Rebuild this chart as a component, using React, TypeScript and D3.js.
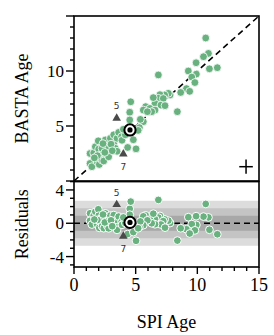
import React from "react";
import * as d3 from "d3";

// SPI age vs BASTA age (Gyr)
const spiAge = [
  10.68, 10.9, 10.5, 10.98, 11.62, 9.9, 9.27, 9.92, 9.55, 9.8, 9.12, 9.38, 8.65, 8.38,
  7.79, 7.65, 7.35, 6.97, 6.84, 7.24, 6.57, 7.05, 7.38, 5.81, 6.16, 5.62, 6.57, 6.3, 5.95, 6.43, 6.84, 5.62, 5.3,
  1.3, 1.3, 1.45, 1.6, 1.73, 1.87, 1.97, 2.05, 2.0, 2.14, 2.27, 2.27, 2.41, 2.54, 2.68, 2.81, 2.81, 2.95,
  3.22, 3.22, 3.35, 3.49, 3.49, 3.62, 3.86, 3.89, 4.16, 4.35, 4.4, 4.81, 4.52, 4.6, 4.52, 5.03, 5.38, 5.2,
  1.9, 2.5, 1.65, 3.0, 4.0, 2.35, 3.1,
];
const bastaAge = [
  13.0, 11.6, 11.3, 10.2, 10.3, 10.75, 10.0, 9.72, 9.45, 8.95, 8.4, 8.15, 8.05, 6.3,
  7.82, 7.97, 7.82, 7.85, 7.52, 7.5, 7.06, 6.9, 6.85, 6.76, 6.6, 6.45, 6.45, 6.3, 6.3, 7.58, 9.64, 5.39, 4.85,
  2.5, 1.6, 1.3, 2.55, 3.12, 1.76, 3.65, 1.5, 2.9, 2.36, 2.97, 1.9, 1.82, 3.73, 2.42, 3.12, 2.2, 3.88,
  3.4, 4.2, 2.97, 3.88, 2.7, 4.42, 4.03, 3.7, 4.2, 3.05, 4.6, 3.75, 6.25, 7.2, 5.55, 2.92, 5.6, 4.6,
  2.3, 2.6, 2.1, 3.35, 4.7, 3.4, 2.75,
];

// labelled comparison stars (triangles)
const specialNames = ["5", "7"];
const specialSpi = [3.46, 4.0];
const specialBasta = [5.7, 2.45];

// highlighted target
const heroSpi = 4.54;
const heroBasta = 4.64;

// typical uncertainty cross
const errCenter = [13.95, 1.3];
const errSpi = 0.55;
const errBasta = 0.65;

// residual scatter bands (1, 2, 3 sigma)
const sigma = 0.9;
const bandMultiples = [3, 2, 1];
const bandColors = ["#dcdcdc", "#c4c4c4", "#a8a8a8"];

const xTicks = d3.range(0, 16);
const xTickLabels = [0, 5, 10, 15];
const yTopTicks = d3.range(0, 16);
const yTopLabels = [5, 10];
const yResTicks = d3.range(-5, 6);
const yResLabels = [4, 0, -4];

const GREEN = "#69b17f";
const SERIF = "'Liberation Serif', 'Times New Roman', serif";

export default function App() {
  const x = d3.scaleLinear().domain([0, 15]).range([74, 259]);
  const yT = d3.scaleLinear().domain([0, 15]).range([181, 16]);
  const yR = d3.scaleLinear().domain([-5.25, 5]).range([267, 181.6]);
  const tri = d3.symbol().type(d3.symbolTriangle).size(32)() as string;

  const [x0, x1] = x.range();
  const resid = spiAge.map((s, i) => bastaAge[i] - s);

  return (
    <svg width={274} height={335} style={{ position: "absolute", left: 0, top: 0, background: "#fff" }}>
      {/* residual bands */}
      {bandMultiples.map((m, i) => (
        <rect key={"b" + i} x={x0} width={x1 - x0} y={yR(m * sigma)} height={yR(-m * sigma) - yR(m * sigma)} fill={bandColors[i]} />
      ))}
      {/* reference lines */}
      <line x1={x(0)} y1={yT(0)} x2={x(15)} y2={yT(15)} stroke="#000" strokeWidth={1.6} strokeDasharray="6,4" />
      <line x1={x0} x2={x1} y1={yR(0)} y2={yR(0)} stroke="#000" strokeWidth={1.6} strokeDasharray="6,4" />

      {/* points top */}
      {spiAge.map((s, i) => (
        <circle key={"t" + i} cx={x(s)} cy={yT(bastaAge[i])} r={3.9} fill={GREEN} stroke="#fff" strokeWidth={0.8} />
      ))}
      {/* points residual */}
      {spiAge.map((s, i) => (
        <circle key={"r" + i} cx={x(s)} cy={yR(resid[i])} r={3.9} fill={GREEN} stroke="#fff" strokeWidth={1} />
      ))}

      {/* special triangles */}
      {specialNames.map((n, i) => {
        const cx = x(specialSpi[i]);
        const cyT = yT(specialBasta[i]);
        const cyR = yR(specialBasta[i] - specialSpi[i]);
        const above = specialBasta[i] > specialSpi[i];
        const off = above ? -12 : 13;
        return (
          <g key={"s" + i}>
            <path d={tri} transform={`translate(${cx},${cyT})`} fill="#4a4a4a" />
            <path d={tri} transform={`translate(${cx},${cyR})`} fill="#4a4a4a" />
            <text x={cx} y={cyT + off} dy="0.35em" textAnchor="middle" fontSize={9} fontFamily="'DejaVu Sans', sans-serif" fill="#333">{n}</text>
            <text x={cx} y={cyR + off} dy="0.35em" textAnchor="middle" fontSize={9} fontFamily="'DejaVu Sans', sans-serif" fill="#333">{n}</text>
          </g>
        );
      })}

      {/* hero */}
      {[yT(heroBasta), yR(heroBasta - heroSpi)].map((cy, i) => (
        <g key={"h" + i}>
          <circle cx={x(heroSpi)} cy={cy} r={5.6} fill="#fff" stroke="#000" strokeWidth={2} />
          <circle cx={x(heroSpi)} cy={cy} r={2.6} fill="#000" />
        </g>
      ))}

      {/* error cross */}
      <line x1={x(errCenter[0] - errSpi)} x2={x(errCenter[0] + errSpi)} y1={yT(errCenter[1])} y2={yT(errCenter[1])} stroke="#000" strokeWidth={1.5} />
      <line x1={x(errCenter[0])} x2={x(errCenter[0])} y1={yT(errCenter[1] - errBasta)} y2={yT(errCenter[1] + errBasta)} stroke="#000" strokeWidth={1.5} />

      {/* frames */}
      <rect x={x0} y={yT(15)} width={x1 - x0} height={yT(0) - yT(15)} fill="none" stroke="#000" strokeWidth={1.6} />
      <rect x={x0} y={yR(5)} width={x1 - x0} height={yR(-5.25) - yR(5)} fill="none" stroke="#000" strokeWidth={1.6} />

      {/* top y ticks */}
      {yTopTicks.map((t) => (
        <line key={"yt" + t} x1={x0 - (t % 5 === 0 ? 8 : 4)} x2={x0} y1={yT(t)} y2={yT(t)} stroke="#000" strokeWidth={1.4} />
      ))}
      {yTopLabels.map((t) => (
        <text key={"ytl" + t} x={x0 - 10} y={yT(t)} dy="0.35em" textAnchor="end" fontSize={17} fontFamily={SERIF}>{t}</text>
      ))}
      {/* residual y ticks */}
      {yResTicks.map((t) => (
        <line key={"yr" + t} x1={x0 - (t % 4 === 0 ? 8 : 4)} x2={x0} y1={yR(t)} y2={yR(t)} stroke="#000" strokeWidth={1.4} />
      ))}
      {yResLabels.map((t) => (
        <text key={"yrl" + t} x={x0 - 10} y={yR(t)} dy="0.35em" textAnchor="end" fontSize={17} fontFamily={SERIF}>{t}</text>
      ))}
      {/* x ticks */}
      {xTicks.map((t) => (
        <line key={"xt" + t} x1={x(t)} x2={x(t)} y1={yR(-5.25)} y2={yR(-5.25) + (t % 5 === 0 ? 7 : 4)} stroke="#000" strokeWidth={1.4} />
      ))}
      {xTickLabels.map((t) => (
        <text key={"xtl" + t} x={x(t)} y={291} textAnchor="middle" fontSize={18} fontFamily={SERIF}>{t}</text>
      ))}

      {/* titles */}
      <text x={x((0 + 15) / 2)} y={328} textAnchor="middle" fontSize={18} fontFamily={SERIF}>SPI Age</text>
      <text transform={`translate(28,${(yT(0) + yT(15)) / 2}) rotate(-90)`} textAnchor="middle" fontSize={18} fontFamily={SERIF}>BASTA Age</text>
      <text transform={`translate(28,${(yR(-5.25) + yR(5)) / 2}) rotate(-90)`} textAnchor="middle" fontSize={18} fontFamily={SERIF}>Residuals</text>
    </svg>
  );
}
